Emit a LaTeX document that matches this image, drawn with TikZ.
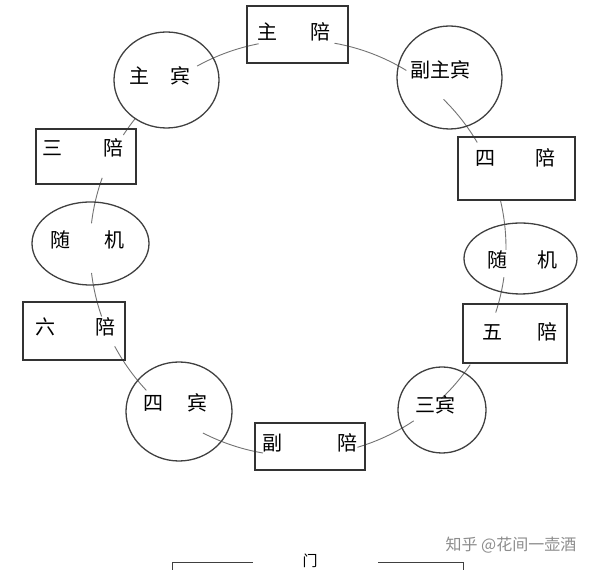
\documentclass[tikz,border=0pt]{standalone}
\usepackage{fontspec}
\newfontfamily\cjk{Noto Sans CJK SC}
\usepackage{tikz}
\usetikzlibrary{shapes.geometric}

\begin{document}
\begin{tikzpicture}[x=1pt, y=1pt,
    pei/.style={draw=black!80, line width=1.3pt, rectangle, inner sep=0pt},
    bin/.style={draw=black!75, line width=1.3pt, ellipse, inner sep=0pt},
    seat text/.style={font=\cjk\fontsize{20}{24}\selectfont, inner sep=0pt},
    ring/.style={draw=black!55, line width=0.9pt}]
  \useasboundingbox (0,0) rectangle (600,570);
  % the table: a ring of arcs between the seats
  \coordinate (table) at (298,322);
  \foreach \a/\b in {100.9/119.0, 58.6/79.9, 30.5/45.6, -0.5/13.4,
                     -18.1/-8.1, -46.4/-34.1, -73.4/-56.2,
                     242.8/260.3, 208.2/223.2, 186.9/199.2,
                     160.3/173.2, 141.6/147.1}
    \draw[ring] (table) ++(\a:208) arc[start angle=\a, end angle=\b,
      radius=208];
  % seats of the hosts: boxes
  \foreach \n/\x/\y/\w/\h in {zhupei/297.5/535.5/101/57,
                              sanpei/86/413.5/100/55,
                              sipei/516.5/401.5/117/63,
                              liupei/74/239/102/58,
                              wupei/515/236.5/104/59,
                              fupei/310/123.5/110/47}
    \node[pei, minimum width=\w pt, minimum height=\h pt] (\n)
      at (\x,\y) {};
  % seats of the guests: rounds
  \foreach \n/\x/\y/\w/\h in {zhubin/166.5/490/105/96,
                              fuzhubin/449.5/492.5/105/103,
                              suijiL/90.5/326.5/117/83,
                              suijiR/520.5/311.5/113/71,
                              sibin/179/158.5/106/99,
                              sanbin/442/160/88/86}
    \node[bin, minimum width=\w pt, minimum height=\h pt] (\n)
      at (\x,\y) {};
  % names on the seats
  \foreach \n/\x/\y/\a/\g/\b in {zhupei/293.5/538/主/33/陪,
                                 sanpei/82.5/422/三/41/陪,
                                 sipei/515/412/四/40/陪,
                                 liupei/75/243/六/40/陪,
                                 wupei/520/238/五/35/陪,
                                 fupei/309.5/127/副/55/陪,
                                 zhubin/160/494/主/21/宾,
                                 suijiL/87/330/随/34/机,
                                 suijiR/522/310/随/30/机,
                                 sibin/175/167/四/24/宾}
    \node[seat text] (\n-t) at (\x,\y) {\a\hspace{\g pt}\b};
  \node[seat text] (fuzhubin-t) at (440,500) {副主宾};
  \node[seat text] (sanbin-t) at (435,165) {三宾};
  % the door
  \draw[black!75, line width=1pt] (172,-5) -- (172,7) -- (253,7);
  \draw[black!75, line width=1pt] (378,7) -- (463,7) -- (463,-5);
  \node[font=\cjk\fontsize{15}{18}\selectfont, inner sep=0pt,
    anchor=south] (door) at (310,2) {门};
  \node[font=\cjk\fontsize{16}{19}\selectfont, text=black!45,
    inner sep=0pt] (mark) at (511,25) {知乎 @花间一壶酒};
\end{tikzpicture}
\end{document}
